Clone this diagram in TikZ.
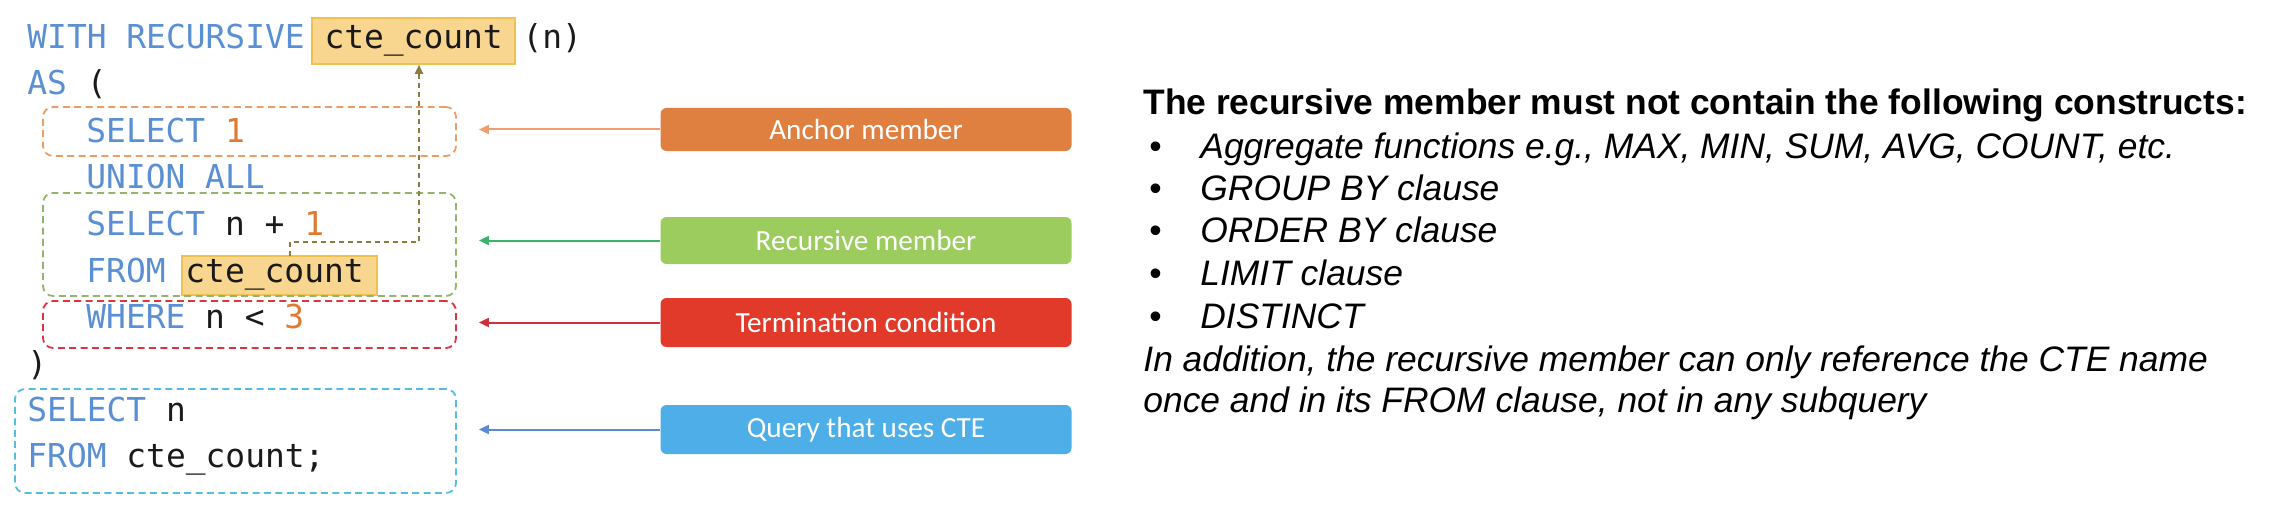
\documentclass[tikz,border=0pt]{standalone}
\usepackage{fontspec}
\setmainfont{Liberation Sans}
\newfontfamily\codefont{DejaVu Sans Mono}
\newfontfamily\labelfont{Carlito}
\usetikzlibrary{arrows.meta,calc}
\definecolor{kwblue}{HTML}{5B8FD4}
\definecolor{numorange}{HTML}{E07A30}
\definecolor{codeblack}{HTML}{1A1A1A}
\definecolor{hlfill}{HTML}{F9D690}
\definecolor{hlborder}{HTML}{EEC24E}
\definecolor{dorange}{HTML}{EE9C66}
\definecolor{dgreen}{HTML}{93B56B}
\definecolor{dred}{HTML}{DC3540}
\definecolor{dblue}{HTML}{55BDE5}
\definecolor{olive}{HTML}{8C7A40}
\definecolor{labanchor}{HTML}{E08040}
\definecolor{labrec}{HTML}{9DCC5E}
\definecolor{labterm}{HTML}{E23A2A}
\definecolor{labquery}{HTML}{4DAEE8}
\definecolor{arorange}{HTML}{F0A070}
\definecolor{argreen}{HTML}{3CB36B}
\definecolor{arred}{HTML}{D0303A}
\definecolor{arblue}{HTML}{5A8AD2}
\newcommand{\kw}[1]{\textcolor{kwblue}{#1}}
\newcommand{\nm}[1]{\textcolor{numorange}{#1}}
\tikzset{
  code/.style={anchor=base west, inner sep=0pt, font=\codefont\fontsize{16.45pt}{20pt}\selectfont, text=codeblack},
  hl/.style={draw=hlborder, fill=hlfill, line width=0.8pt, inner sep=0pt},
  dbox/.style={draw, dash pattern=on 3.5pt off 2.2pt, line width=0.9pt, rounded corners=5pt, inner sep=0pt},
  lab/.style={rounded corners=3pt, inner sep=0pt, text=white, font=\labelfont\fontsize{14.6pt}{17pt}\selectfont, minimum width=205.5pt},
  pointer/.style={-{Triangle[length=5pt,width=4.5pt]}, line width=1pt},
  backref/.style={-{Triangle[length=4.5pt,width=4pt]}, draw=olive, line width=0.9pt, dash pattern=on 2.5pt off 2pt},
  rtext/.style={anchor=base west, inner sep=0pt, font=\fontsize{17.7pt}{21pt}\selectfont, text=black},
}
\begin{document}
\begin{tikzpicture}[x=0.5pt,y=-0.5pt]
\useasboundingbox[fill=white] (0,0) rectangle (2280,508);
% highlights
\node[hl, minimum width=101.5pt, minimum height=23pt] (hl1) at (413.5,41) {};
\node[hl, minimum width=97.5pt, minimum height=19.5pt] (hl2) at (279.5,275.5) {};
% dashed boxes
\node[dbox, draw=dorange, minimum width=206.5pt, minimum height=24.5pt] (abox) at (249.5,131.5) {};
\node[dbox, draw=dgreen, minimum width=206.5pt, minimum height=51.5pt] (rbox) at (249.5,244.5) {};
\node[dbox, draw=dred, minimum width=206.5pt, minimum height=23.5pt] (tbox) at (249.5,324.5) {};
\node[dbox, draw=dblue, minimum width=220.5pt, minimum height=52pt] (qbox) at (235.5,441) {};
% code lines
\node[code] (l1) at (27,49) {\kw{WITH RECURSIVE} cte\_count (n)};
\node[code] (l2) at (27,95) {\kw{AS} (};
\node[code] (l3) at (86,142) {\kw{SELECT} \nm{1}};
\node[code] (l4) at (86,188) {\kw{UNION ALL}};
\node[code] (l5) at (86,235) {\kw{SELECT} n + \nm{1}};
\node[code] (l6) at (86,282) {\kw{FROM} cte\_count};
\node[code] (l7) at (86,328) {\kw{WHERE} n < \nm{3}};
\node[code] (l8) at (27,375) {)};
\node[code] (l9) at (27,421) {\kw{SELECT} n};
\node[code] (l10) at (27,467) {\kw{FROM} cte\_count;};
% back reference arrow
\coordinate (stub) at (290,256);
\coordinate (bend) at (419,242);
\draw[backref] (stub) |- (bend) -- (bend |- hl1.south);
% labels
\node[lab, fill=labanchor, minimum height=21.5pt] (lab1) at (866,129.5) {Anchor member};
\node[lab, fill=labrec, minimum height=23.5pt] (lab2) at (866,240.5) {Recursive member};
\node[lab, fill=labterm, minimum height=24.5pt] (lab3) at (866,322.5) {Termination condition};
\node[lab, fill=labquery, minimum height=24.5pt] (lab4) at (866,429.5) {Query that uses CTE};
% pointers
\draw[pointer, draw=arorange, fill=arorange] (lab1.west) -- ([xshift=11pt]abox.east |- lab1.west);
\draw[pointer, draw=argreen, fill=argreen] (lab2.west) -- ([xshift=11pt]rbox.east |- lab2.west);
\draw[pointer, draw=arred, fill=arred] (lab3.west) -- ([xshift=11pt]tbox.east |- lab3.west);
\draw[pointer, draw=arblue, fill=arblue] (lab4.west) -- ([xshift=11pt]qbox.east |- lab4.west);
% right text
\node[rtext, font=\bfseries\fontsize{17.7pt}{21pt}\selectfont] (head) at (1143,114) {The recursive member must not contain the following constructs:};
\node[rtext] (b1) at (1149,158) {•};
\node[rtext] (b2) at (1149,200) {•};
\node[rtext] (b3) at (1149,242) {•};
\node[rtext] (b4) at (1149,285) {•};
\node[rtext] (b5) at (1149,328) {•};
\node[rtext, font=\itshape\fontsize{17.7pt}{21pt}\selectfont] (t1) at (1200,158) {Aggregate functions e.g., MAX, MIN, SUM, AVG, COUNT, etc.};
\node[rtext, font=\itshape\fontsize{17.7pt}{21pt}\selectfont] (t2) at (1200,200) {GROUP BY clause};
\node[rtext, font=\itshape\fontsize{17.7pt}{21pt}\selectfont] (t3) at (1200,242) {ORDER BY clause};
\node[rtext, font=\itshape\fontsize{17.7pt}{21pt}\selectfont] (t4) at (1200,285) {LIMIT clause};
\node[rtext, font=\itshape\fontsize{17.7pt}{21pt}\selectfont] (t5) at (1200,328) {DISTINCT};
\node[rtext, font=\itshape\fontsize{17.7pt}{21pt}\selectfont] (t6) at (1143,371) {In addition, the recursive member can only reference the CTE name};
\node[rtext, font=\itshape\fontsize{17.7pt}{21pt}\selectfont] (t7) at (1143,412) {once and in its FROM clause, not in any subquery};
\end{tikzpicture}
\end{document}
